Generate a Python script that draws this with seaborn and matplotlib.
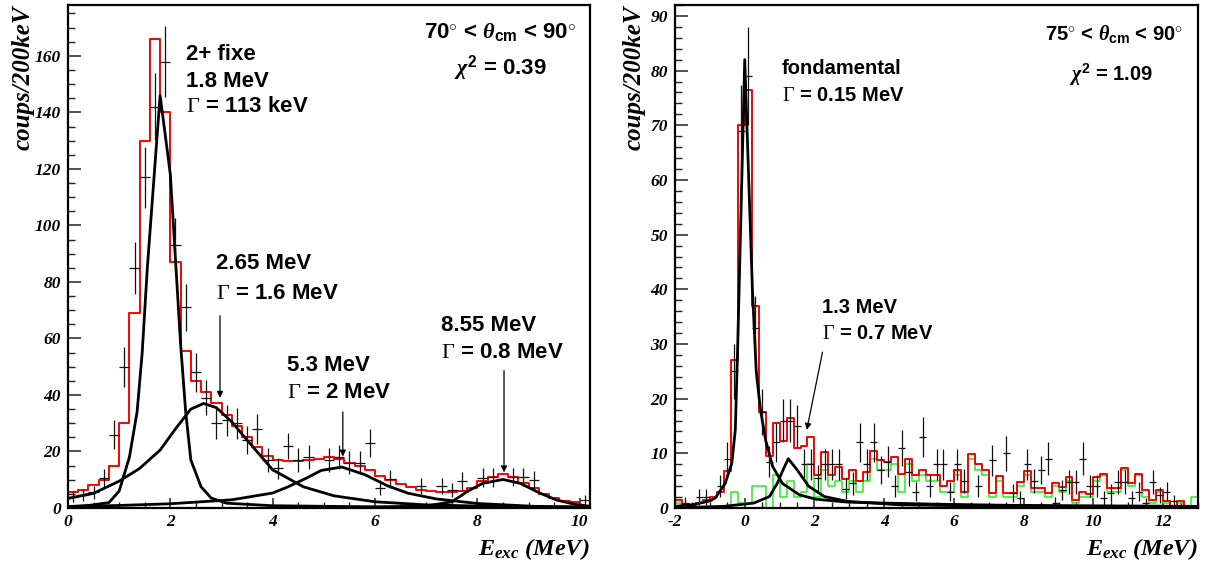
import numpy as np
import pandas as pd
import matplotlib.pyplot as plt
import seaborn as sns
from matplotlib.ticker import MultipleLocator

# ---------------- left spectrum : 70 < theta_cm < 90 ----------------
left_edges = np.round(np.arange(0, 10.21, 0.2), 2)
left_total = [5.5, 6.5, 8, 10, 15, 30, 69, 130, 166, 140,
              87, 55.5, 45, 41, 37, 33, 29, 25, 21.5, 18.5,
              17, 16.5, 16.5, 17, 17.5, 18, 17.5, 16, 15, 13.5,
              11.5, 10, 8.5, 7.5, 6.5, 6, 5.5, 5.5, 6, 7,
              9.5, 11, 12, 11, 9, 7, 5, 3.5, 2.5, 2, 0.5]

left_x = [0.1, 0.3, 0.5, 0.7, 0.9, 1.1, 1.3, 1.5, 1.7, 1.9, 2.1, 2.3, 2.5, 2.7,
          2.9, 3.1, 3.3, 3.5, 3.7, 3.9, 4.1, 4.3, 4.5, 4.7, 5.1, 5.3, 5.5, 5.7,
          5.9, 6.1, 6.3, 6.9, 7.3, 7.5, 7.7, 8.1, 8.3, 8.7, 8.9, 9.1, 10.1]
left_y = [4, 4.5, 5.5, 10.5, 26, 50, 85, 117, 142, 158, 93, 71, 48, 39,
          30, 31, 30, 24, 28, 17, 14, 22, 17, 18, 17, 18, 16, 16,
          23, 7.2, 10.4, 7.8, 7.8, 6.4, 9.6, 10.7, 10.8, 11, 11, 9.9, 2.8]
left_err = [2, 2.1, 2.3, 3.2, 5.1, 7.1, 9.2, 10.8, 11.9, 12.6, 9.6, 8.4, 6.9, 6.2,
            5.5, 5.6, 5.5, 4.9, 5.3, 4.1, 3.7, 4.7, 4.1, 4.2, 4.1, 4.2, 4, 4,
            4.8, 2.7, 3.2, 2.8, 2.8, 2.5, 3.1, 3.3, 3.3, 3.3, 3.3, 3.1, 1.7]

# fitted components
p18_x = [0, 0.4, 0.8, 1.0, 1.2, 1.35, 1.45, 1.55, 1.8, 2.0, 2.1, 2.2, 2.3, 2.4, 2.6, 2.8, 3.1, 4.0, 6.0, 8.0, 10.2]
p18_y = [0.5, 0.9, 1.9, 6, 18, 34, 55, 85, 146, 118, 88, 58, 34, 17, 7.5, 3.5, 1.7, 0.8, 0.4, 0.2, 0.1]
p265_x = [0, 0.5, 1.0, 1.4, 1.8, 2.1, 2.4, 2.65, 2.9, 3.2, 3.5, 4.0, 4.6, 5.2, 6.0, 7.0, 8.5, 10.2]
p265_y = [3.4, 5.2, 9.5, 14, 20.5, 28, 35, 37, 35.5, 30.5, 24, 13.5, 7.5, 4.3, 2.2, 1.1, 0.5, 0.3]
p53_x = [0, 1, 2, 3.2, 4.0, 4.3, 4.65, 4.95, 5.35, 5.8, 6.25, 6.65, 7.2, 8.0, 9.1, 10.2]
p53_y = [0.5, 0.9, 1.5, 2.9, 5.3, 7.5, 10.5, 13.3, 14.5, 11.8, 7.8, 5.2, 3.2, 1.6, 0.6, 0.3]
p855_x = [4, 6, 7, 7.5, 7.8, 8.1, 8.5, 8.84, 9.23, 9.55, 9.88, 10.2]
p855_y = [0.1, 0.3, 0.7, 2.2, 5.8, 8.7, 10.1, 8.7, 5.2, 2.8, 1.4, 0.6]

# ---------------- right spectrum : 75 < theta_cm < 90 ----------------
right_edges = np.round(np.arange(-2, 13.01, 0.2), 2)
right_total = [1.5, 0.7, 0.5, 1, 1.5, 2, 3, 6.7, 27, 70,
               76.5, 37, 17.5, 9.5, 15.5, 12.3, 16.5, 11, 11.3, 13,
               6, 10.2, 6, 7.5, 5.3, 7, 5, 6.5, 10.5, 8.7,
               8.5, 9.4, 6.2, 9, 6, 7, 6, 6, 4, 5,
               7, 3, 9.8, 8, 7, 2.8, 5.8, 2.8, 2.8, 4.8,
               6.7, 3.6, 3.6, 2.8, 4.5, 3.8, 5.6, 1.5, 3, 2.5,
               5.6, 6.3, 3.6, 3.6, 7.3, 4.5, 6.3, 3.3, 1.5, 3.3,
               1.3, 0.2, 1.3, 0.2, 0]
right_green = [1, 0.2, 0.2, 0.2, 0.2, 0.2, 0.2, 0.2, 3, 1,
               1, 4, 4, 0, 6, 2, 5, 2, 3, 8,
               2, 7, 4, 5, 3, 5, 3, 5, 9, 7,
               7, 8, 3, 8, 5, 6, 5, 5, 3, 3,
               6, 2, 9, 7, 6, 2, 5, 2, 2, 4,
               6, 3, 3, 2, 4, 3, 5, 1, 2, 2,
               5, 6, 3, 3, 7, 4, 6, 2, 1, 3,
               1, 0, 1, 0, 2]

right_x = [-1.7, -1.3, -1.1, -0.7, -0.5, -0.3, -0.1, 0.1, 0.3, 0.5, 0.7, 0.9, 1.1, 1.3,
           1.5, 1.7, 1.9, 2.1, 2.3, 2.5, 2.7, 2.9, 3.1, 3.3, 3.5, 3.7, 3.9, 4.1,
           4.3, 4.5, 4.7, 4.9, 5.1, 5.3, 5.5, 5.7, 5.9, 6.1, 6.3, 6.7, 7.1, 7.5,
           7.7, 7.9, 8.1, 8.3, 8.5, 8.7, 8.9, 9.1, 9.3, 9.5, 9.7, 9.9, 10.1, 10.3,
           10.5, 10.7, 10.9, 11.1, 11.3, 11.5, 11.7, 11.9, 12.1, 12.3]
right_y = [1, 2, 2, 4, 9, 25, 69, 79, 33, 17.5, 8.5, 12, 16, 16,
           15, 8, 8, 5.5, 8, 8, 8, 3.5, 4.5, 12, 8, 12, 7, 8.5,
           4, 11, 6.5, 3, 13, 4, 8, 8, 3, 8, 5, 4, 8.7, 10,
           2.7, 1.8, 8, 5, 7, 9, 1, 3.3, 4.8, 4.8, 9, 4, 4, 1.8,
           2.7, 4.8, 4.8, 1.8, 3, 0.9, 4.8, 2.4, 3, 1.2]
right_err = [1, 1.4, 1.4, 2, 3, 5, 8.3, 8.9, 5.7, 4.2, 2.9, 3.5, 4, 4,
             3.9, 2.8, 2.8, 2.3, 2.8, 2.8, 2.8, 1.9, 2.1, 3.5, 2.8, 3.5, 2.6, 2.9,
             2, 3.3, 2.5, 1.7, 3.6, 2, 2.8, 2.8, 1.7, 2.8, 2.2, 2, 2.9, 3.2,
             1.6, 1.3, 2.8, 2.2, 2.6, 3, 1, 1.8, 2.2, 2.2, 3, 2, 2, 1.3,
             1.6, 2.2, 2.2, 1.3, 1.7, 0.9, 2.2, 1.5, 1.7, 1.1]

gs_x = [-2, -1.5, -1.0, -0.85, -0.56, -0.37, -0.27, -0.2, 0.0, 0.22, 0.33, 0.45,
        0.6, 0.8, 1.08, 1.57, 2.05, 2.9, 4.0, 5.5, 7.5, 10, 13]
gs_y = [0.3, 0.6, 1.3, 1.8, 4.5, 8.2, 14.3, 30, 82, 40, 25, 18,
        12.4, 7.6, 4.5, 2.4, 1.6, 1.1, 0.9, 0.7, 0.5, 0.4, 0.3]
p13_x = [-2, -0.6, 0.26, 0.71, 0.94, 1.1, 1.25, 1.5, 1.83, 2.28, 2.95, 4.4, 7.2, 13]
p13_y = [0.05, 0.3, 0.9, 2.1, 4.6, 7, 9, 7, 4, 2.1, 1.2, 0.6, 0.3, 0.1]

# ---------------- style ----------------
sns.set_style("white")
plt.rcParams['font.family'] = ['Liberation Sans', 'DejaVu Sans']
plt.rcParams['mathtext.fontset'] = 'custom'
plt.rcParams['mathtext.rm'] = 'Liberation Serif'
plt.rcParams['mathtext.it'] = 'Liberation Serif:italic:bold'
plt.rcParams['mathtext.bf'] = 'Liberation Sans:bold'
plt.rcParams['mathtext.sf'] = 'Liberation Sans:bold'
plt.rcParams['axes.unicode_minus'] = False
for key in ['text.color', 'axes.labelcolor', 'xtick.color', 'ytick.color', 'axes.edgecolor']:
    plt.rcParams[key] = 'black'

W, H = 1209, 564
fig = plt.figure(figsize=(W / 100, H / 100), dpi=100)
ax1 = fig.add_axes([68 / W, 56 / H, 522 / W, 503 / H])
ax2 = fig.add_axes([675 / W, 56 / H, 523 / W, 503 / H])

serif_bi = dict(family='Liberation Serif', weight='bold', style='italic', color='black')


def draw_hist(ax, edges, values, color, lw):
    edges = [float(e) for e in edges]
    centers = [(a + b) / 2 for a, b in zip(edges[:-1], edges[1:])]
    df = pd.DataFrame({'energy': centers, 'counts': values})
    sns.histplot(data=df, x='energy', weights='counts', bins=edges, element='step',
                 fill=False, color=color, linewidth=lw, ax=ax, zorder=2)


def draw_curve(ax, xs, ys):
    sns.lineplot(x=xs, y=ys, color='black', linewidth=2.0, ax=ax, zorder=3)


def draw_points(ax, xs, ys, errs):
    ax.errorbar(xs, ys, yerr=errs, xerr=0.1, fmt='none', ecolor='#111111',
                elinewidth=0.9, capsize=0, zorder=4)


def style_axes(ax, xlim, ylim, xmaj, xmin, ymaj, ymin, ylab_x):
    ax.set_xlim(xlim)
    ax.set_ylim(ylim)
    ax.xaxis.set_major_locator(MultipleLocator(xmaj))
    ax.xaxis.set_minor_locator(MultipleLocator(xmin))
    ax.yaxis.set_major_locator(MultipleLocator(ymaj))
    ax.yaxis.set_minor_locator(MultipleLocator(ymin))
    ax.tick_params(which='both', direction='in', top=False, right=False,
                   bottom=True, left=True, color='#222222', labelcolor='black')
    ax.tick_params(axis='y', which='major', length=9, width=1.1, pad=5)
    ax.tick_params(axis='y', which='minor', length=5, width=1.0)
    ax.tick_params(axis='x', which='major', length=7, width=1.1, pad=4)
    ax.tick_params(axis='x', which='minor', length=4, width=1.0)
    for lab in ax.get_xticklabels() + ax.get_yticklabels():
        lab.set(size=12.5, **serif_bi)
    for s in ax.spines.values():
        s.set_linewidth(1.6)
        s.set_color('black')
    ax.set_ylabel('coups/200keV', fontsize=18, loc='top', **serif_bi)
    ax.yaxis.set_label_coords(ylab_x, 1.0)
    ax.set_xlabel('$E_{exc}$ (MeV)', fontsize=17.5, loc='right', **serif_bi)
    ax.xaxis.set_label_coords(1.0, -0.055)


def arrow(ax, start, end):
    ax.annotate('', xy=end, xytext=start,
                arrowprops=dict(arrowstyle='-|>', color='black', lw=0.9,
                                mutation_scale=9, shrinkA=0, shrinkB=0))


# ---------------- left panel ----------------
draw_hist(ax1, left_edges, left_total, 'red', 1.4)
for xs, ys in [(p18_x, p18_y), (p265_x, p265_y), (p53_x, p53_y), (p855_x, p855_y)]:
    draw_curve(ax1, xs, ys)
draw_points(ax1, left_x, left_y, left_err)
style_axes(ax1, (0, 10.2), (0, 178), 2, 0.5, 20, 5, -0.063)

txt = dict(fontsize=16, fontweight='bold', va='center', color='black')
ax1.text(2.31, 160.5, '2+ fixe', ha='left', **txt)
ax1.text(2.31, 151, '1.8 MeV', ha='left', **txt)
ax1.text(2.31, 142, r'$\Gamma$ = 113 keV', ha='left', **txt)
ax1.text(2.9, 86.5, '2.65 MeV', ha='left', **txt)
ax1.text(2.9, 76, r'$\Gamma$ = 1.6 MeV', ha='left', **txt)
ax1.text(4.27, 50.5, '5.3 MeV', ha='left', **txt)
ax1.text(4.27, 41, r'$\Gamma$ = 2 MeV', ha='left', **txt)
ax1.text(7.28, 64.5, '8.55 MeV', ha='left', **txt)
ax1.text(7.28, 55, r'$\Gamma$ = 0.8 MeV', ha='left', **txt)
ax1.text(8.45, 168.5, r'70$^{\circ}$ < $\theta_{\mathsf{cm}}$ < 90$^{\circ}$', ha='center', **txt)
ax1.text(8.45, 155.5, r'$\chi^{\mathsf{2}}$ = 0.39', ha='center', **txt)
arrow(ax1, (2.97, 68), (2.97, 39))
arrow(ax1, (5.37, 34), (5.37, 18.2))
arrow(ax1, (8.52, 48.6), (8.52, 12.6))

# ---------------- right panel ----------------
draw_hist(ax2, right_edges, right_green, '#22ee22', 1.1)
draw_hist(ax2, right_edges, right_total, 'red', 1.4)
draw_curve(ax2, gs_x, gs_y)
draw_curve(ax2, p13_x, p13_y)
draw_points(ax2, right_x, right_y, right_err)
style_axes(ax2, (-2, 13), (0, 92), 2, 0.5, 10, 2, -0.057)

txt2 = dict(fontsize=14.5, fontweight='bold', va='center', color='black')
ax2.text(1.07, 80.4, 'fondamental', ha='left', **txt2)
ax2.text(1.07, 75.5, r'$\Gamma$ = 0.15 MeV', ha='left', **txt2)
ax2.text(2.23, 36.6, '1.3 MeV', ha='left', **txt2)
ax2.text(2.23, 31.9, r'$\Gamma$ = 0.7 MeV', ha='left', **txt2)
ax2.text(10.6, 86.7, r'75$^{\circ}$ < $\theta_{\mathsf{cm}}$ < 90$^{\circ}$', ha='center', **txt2)
ax2.text(10.5, 79.3, r'$\chi^{\mathsf{2}}$ = 1.09', ha='center', **txt2)
arrow(ax2, (2.23, 28.5), (1.78, 14.3))

plt.savefig('out.png', dpi=100)
